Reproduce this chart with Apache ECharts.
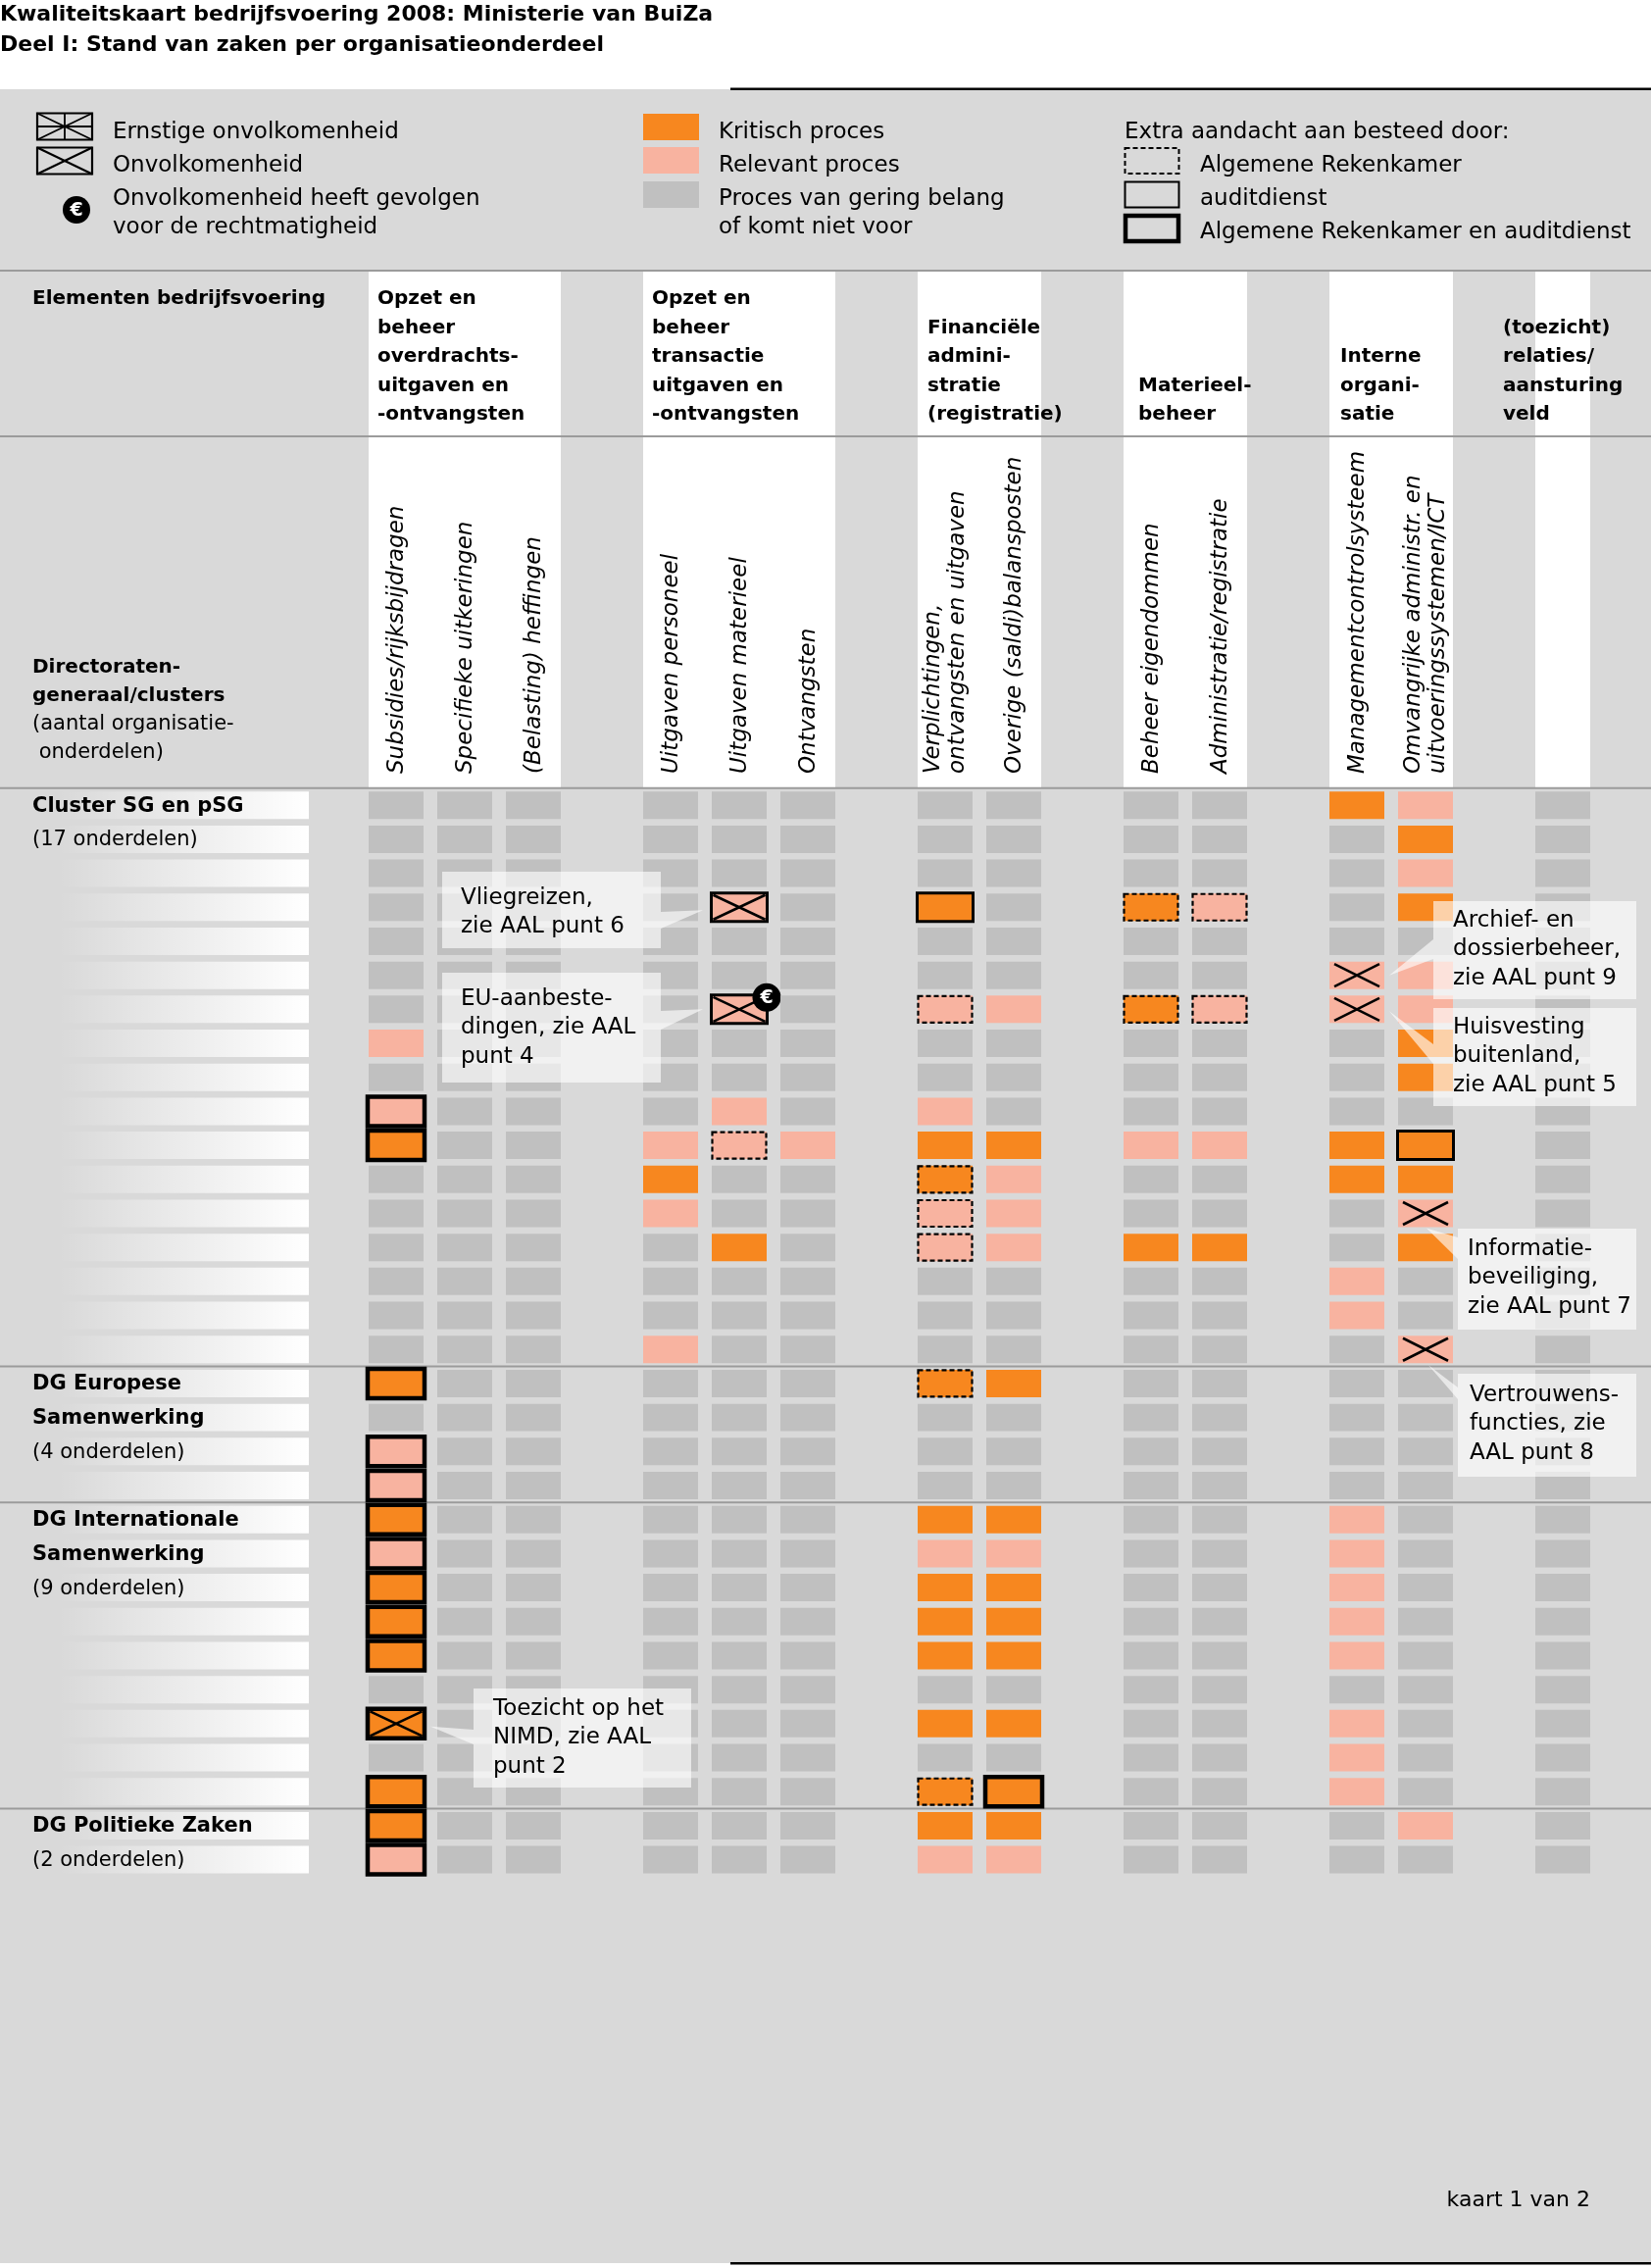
<!DOCTYPE html>
<html><head><meta charset="utf-8">
<script src="https://cdn.jsdelivr.net/npm/echarts@6/dist/echarts.min.js"></script>
<style>html,body{margin:0;padding:0;background:#fff}#c{width:1684px;height:2313px}</style>
</head><body><div id="c"></div>
<script>
// ---------- DATA ----------
const titleLines = ['Kwaliteitskaart bedrijfsvoering 2008: Ministerie van BuiZa', 'Deel I: Stand van zaken per organisatieonderdeel'];

// x-slot of each column (gaps between groups are empty slots)
const columnSlots = [0, 1, 2, 4, 5, 6, 8, 9, 11, 12, 14, 15, 17];
const columnLabels = [
  'Subsidies/rijksbijdragen', 'Specifieke uitkeringen', '(Belasting) heffingen',
  'Uitgaven personeel', 'Uitgaven materieel', 'Ontvangsten',
  'Verplichtingen,\nontvangsten en uitgaven', 'Overige (saldi)balansposten',
  'Beheer eigendommen', 'Administratie/registratie',
  'Managementcontrolsysteem', 'Omvangrijke administr. en\nuitvoeringssystemen/ICT',
  ''
];
const groupSpans = [[0, 2], [4, 6], [8, 9], [11, 12], [14, 15], [17, 17]];
const groupTitles = [
  'Opzet en\nbeheer\noverdrachts-\nuitgaven en\n-ontvangsten',
  'Opzet en\nbeheer\ntransactie\nuitgaven en\n-ontvangsten',
  'Financiële\nadmini-\nstratie\n(registratie)',
  'Materieel-\nbeheer',
  'Interne\norgani-\nsatie',
  '(toezicht)\nrelaties/\naansturing\nveld'
];

// g = gering belang, p = relevant, o = kritisch ; one string per organisation unit (13 columns)
const rowLevels = [
  'ggggggggggopg', 'gggggggggggog', 'gggggggggggpg', 'ggggpgogopgog', 'ggggggggggggg',
  'ggggggggggppg', 'ggggpgppopppg', 'pggggggggggog', 'gggggggggggog', 'pgggpgpgggggg',
  'oggpppooppoog', 'gggoggopggoog', 'gggpggppgggpg', 'ggggogppoogog', 'ggggggggggpgg',
  'ggggggggggpgg', 'gggpgggggggpg',
  'ogggggooggggg', 'ggggggggggggg', 'pgggggggggggg', 'pgggggggggggg',
  'ogggggooggpgg', 'pgggggppggpgg', 'ogggggooggpgg', 'ogggggooggpgg', 'ogggggooggpgg',
  'ggggggggggggg', 'ogggggooggpgg', 'ggggggggggpgg', 'ogggggooggpgg',
  'ogggggoogggpg', 'pgggggppggggg'
];
// [row, column, attention (1 = Rekenkamer, 2 = auditdienst, 3 = beide), flaw (1 = onvolkomenheid, 2 = met gevolgen rechtmatigheid)]
const markers = [
  [4, 5, 2, 1], [4, 7, 2, 0], [4, 9, 1, 0], [4, 10, 1, 0],
  [6, 11, 0, 1],
  [7, 5, 2, 2], [7, 7, 1, 0], [7, 9, 1, 0], [7, 10, 1, 0], [7, 11, 0, 1],
  [10, 1, 3, 0], [11, 1, 3, 0], [11, 5, 1, 0], [11, 12, 2, 0],
  [12, 7, 1, 0], [13, 7, 1, 0], [14, 7, 1, 0], [13, 12, 0, 1], [17, 12, 0, 1],
  [18, 1, 3, 0], [18, 7, 1, 0], [20, 1, 3, 0], [21, 1, 3, 0],
  [22, 1, 3, 0], [23, 1, 3, 0], [24, 1, 3, 0], [25, 1, 3, 0], [26, 1, 3, 0],
  [28, 1, 3, 1], [30, 1, 3, 0], [30, 7, 1, 0], [30, 8, 3, 0],
  [31, 1, 3, 0], [32, 1, 3, 0]
];
const rowLabels = [
  [1, 'Cluster SG en pSG', 1], [2, '(17 onderdelen)', 0],
  [18, 'DG Europese', 1], [19, 'Samenwerking', 1], [20, '(4 onderdelen)', 0],
  [22, 'DG Internationale', 1], [23, 'Samenwerking', 1], [24, '(9 onderdelen)', 0],
  [31, 'DG Politieke Zaken', 1], [32, '(2 onderdelen)', 0]
];
const groupBreaks = [17, 21, 30];
// callouts: [row, column, text]
const callouts = [
  [4, 5, 'Vliegreizen,\nzie AAL punt 6'],
  [7, 5, 'EU-aanbeste-\ndingen, zie AAL\npunt 4'],
  [6, 11, 'Archief- en\ndossierbeheer,\nzie AAL punt 9'],
  [7, 11, 'Huisvesting\nbuitenland,\nzie AAL punt 5'],
  [13, 12, 'Informatie-\nbeveiliging,\nzie AAL punt 7'],
  [17, 12, 'Vertrouwens-\nfuncties, zie\nAAL punt 8'],
  [28, 1, 'Toezicht op het\nNIMD, zie AAL\npunt 2']
];

// ---------- LAYOUT / STYLE ----------
const calloutLayout = [
  {x: 451, y: 889, w: 223, h: 78, pad: 19, dy: 12, edge: 'right', b: [930, 947], tdx: -37, tdy: 3},
  {x: 451, y: 992, w: 223, h: 112, pad: 19, dy: 12, edge: 'right', b: [1031, 1050], tdx: -37, tdy: 0},
  {x: 1462, y: 919, w: 207, h: 100, pad: 20, dy: 5, edge: 'left', b: [958, 978], tdx: 33, tdy: 0},
  {x: 1462, y: 1028, w: 207, h: 100, pad: 20, dy: 5, edge: 'left', b: [1065, 1085], tdx: 33, tdy: 2},
  {x: 1487, y: 1253, w: 182, h: 103, pad: 10, dy: 6, edge: 'left', b: [1262, 1284], tdx: 1, tdy: 15},
  {x: 1487, y: 1401, w: 182, h: 105, pad: 12, dy: 7, edge: 'left', b: [1415, 1427], tdx: 3, tdy: 16},
  {x: 483, y: 1722, w: 222, h: 101, pad: 20, dy: 6, edge: 'left', b: [1764, 1779], tdx: 35, tdy: 3}
];
const groupTitleX = [385, 665, 946, 1161, 1367, 1533];

const ORANGE = '#f7871f', PINK = '#f8b3a0', GREY = '#c0c0c0', BG = '#d9d9d9', LINE = '#9b9b9b';
const LEVEL_COLORS = {g: GREY, p: PINK, o: ORANGE};
const FF = '"DejaVu Sans", "Liberation Sans", sans-serif';
const f = (size, weight, style) => (style ? style + ' ' : '') + (weight ? weight + ' ' : '') + size + 'px ' + FF;

// derived cell table
const cellData = [];
rowLevels.forEach((s, r) => {
  for (let c = 0; c < 13; c++) {
    const m = markers.find(mm => mm[0] === r + 1 && mm[1] === c + 1);
    cellData.push([columnSlots[c], r + 1, s[c], m ? m[2] : 0, m ? m[3] : 0]);
  }
});

function cellGeom(api, slot, row) {
  const c = api.coord([slot + 0.5, row - 0.5]);
  const s = api.size([1, 1]);
  const w = s[0] * 0.8, h = s[1] * 0.807;
  return {x: c[0] - w / 2, y: c[1] - h / 2, w: w, h: h, cx: c[0], cy: c[1]};
}

// ---------- STATIC GRAPHICS ----------
const G = [];
G.push({type: 'rect', z: 0, shape: {x: 0, y: 91, width: 1684, height: 2217}, style: {fill: BG}});
G.push({type: 'rect', z: 30, shape: {x: 745, y: 89.5, width: 939, height: 2.5}, style: {fill: '#000'}});
G.push({type: 'rect', z: 30, shape: {x: 745, y: 2307, width: 939, height: 2.5}, style: {fill: '#000'}});
[276, 445, 803.85].forEach(y => G.push({type: 'rect', z: 30, shape: {x: 0, y: y - 1, width: 1684, height: 2}, style: {fill: LINE}}));
titleLines.forEach((t, i) => G.push({type: 'text', z: 30, x: 0, y: 15 + i * 31, style: {text: t, font: f(22, 'bold'), fill: '#000', align: 'left', verticalAlign: 'middle'}}));

// legend
const txt = (x, y, t, font) => G.push({type: 'text', z: 30, x: x, y: y, style: {text: t, font: font || f(23), fill: '#000', align: 'left', verticalAlign: 'middle'}});
G.push({type: 'rect', z: 30, shape: {x: 38, y: 115.5, width: 56, height: 27}, style: {fill: 'none', stroke: '#000', lineWidth: 2.2}});
[[38, 115.5, 94, 142.5], [94, 115.5, 38, 142.5], [38, 129, 94, 129], [66, 115.5, 66, 142.5]].forEach(l =>
  G.push({type: 'line', z: 30, shape: {x1: l[0], y1: l[1], x2: l[2], y2: l[3]}, style: {stroke: '#000', lineWidth: 1.8}}));
G.push({type: 'rect', z: 30, shape: {x: 38, y: 150.5, width: 56, height: 27}, style: {fill: 'none', stroke: '#000', lineWidth: 2.2}});
[[38, 150.5, 94, 177.5], [94, 150.5, 38, 177.5]].forEach(l =>
  G.push({type: 'line', z: 30, shape: {x1: l[0], y1: l[1], x2: l[2], y2: l[3]}, style: {stroke: '#000', lineWidth: 2.2}}));
G.push({type: 'circle', z: 30, shape: {cx: 78, cy: 214, r: 14}, style: {fill: '#000'}});
G.push({type: 'text', z: 31, x: 78, y: 215, style: {text: '€', font: f(19, 'bold'), fill: '#fff', align: 'center', verticalAlign: 'middle'}});
txt(115, 135, 'Ernstige onvolkomenheid');
txt(115, 169, 'Onvolkomenheid');
txt(115, 203, 'Onvolkomenheid heeft gevolgen');
txt(115, 232, 'voor de rechtmatigheid');
[[116, ORANGE], [150, PINK], [185, GREY]].forEach(s => G.push({type: 'rect', z: 30, shape: {x: 656, y: s[0], width: 57, height: 27}, style: {fill: s[1]}}));
txt(733, 135, 'Kritisch proces');
txt(733, 169, 'Relevant proces');
txt(733, 203, 'Proces van gering belang');
txt(733, 232, 'of komt niet voor');
txt(1147, 135, 'Extra aandacht aan besteed door:');
G.push({type: 'rect', z: 30, shape: {x: 1147.5, y: 151, width: 55, height: 26}, style: {fill: 'none', stroke: '#000', lineWidth: 2, lineDash: [5, 3]}});
G.push({type: 'rect', z: 30, shape: {x: 1147.5, y: 185.5, width: 55, height: 26}, style: {fill: 'none', stroke: '#000', lineWidth: 2}});
G.push({type: 'rect', z: 30, shape: {x: 1148, y: 220, width: 54, height: 26}, style: {fill: 'none', stroke: '#000', lineWidth: 4.5}});
txt(1224, 169, 'Algemene Rekenkamer');
txt(1224, 203, 'auditdienst');
txt(1224, 237, 'Algemene Rekenkamer en auditdienst');

// header texts
txt(33, 305, 'Elementen bedrijfsvoering', f(20, 'bold'));
groupTitles.forEach((t, i) => G.push({type: 'text', z: 30, x: groupTitleX[i], y: 438,
  style: {text: t, font: f(20, 'bold'), fill: '#000', align: 'left', verticalAlign: 'bottom', lineHeight: 29.5}}));
txt(33, 681, 'Directoraten-', f(20, 'bold'));
txt(33, 710, 'generaal/clusters', f(20, 'bold'));
txt(33, 739, '(aantal organisatie-', f(21));
txt(33, 768, ' onderdelen)', f(21));
G.push({type: 'text', z: 30, x: 1622, y: 2244, style: {text: 'kaart 1 van 2', font: f(22), fill: '#000', align: 'right', verticalAlign: 'middle'}});

// ---------- CHART ----------
const chart = echarts.init(document.getElementById('c'), null, {width: 1684, height: 2313});
chart.setOption({
  animation: false,
  backgroundColor: '#ffffff',
  grid: {left: 369, top: 803.85, width: 1260, height: 1110.1, show: false},
  xAxis: {type: 'value', min: 0, max: 18, show: false},
  yAxis: {type: 'value', min: 0, max: 32, inverse: true, show: false},
  graphic: {elements: G},
  series: [
    { // white header bands per group
      type: 'custom', z: 1, silent: true, clip: false,
      data: groupSpans.map(g => [g[0], g[1]]),
      renderItem: (params, api) => {
        const g = groupSpans[params.dataIndex];
        const x0 = api.coord([g[0] + 0.1, 0])[0], x1 = api.coord([g[1] + 0.9, 0])[0];
        return {type: 'rect', shape: {x: x0, y: 277, width: x1 - x0, height: 526}, style: {fill: '#ffffff'}};
      }
    },
    { // row strips + row labels
      type: 'custom', z: 2, silent: true, clip: false,
      data: rowLevels.map((s, i) => [0, i + 1]),
      renderItem: (params, api) => {
        const r = params.dataIndex + 1;
        const g = cellGeom(api, 0, r);
        const ch = [{type: 'rect', shape: {x: 60, y: g.y, width: 255, height: g.h},
          style: {fill: new echarts.graphic.LinearGradient(0, 0, 1, 0, [{offset: 0, color: 'rgba(255,255,255,0)'}, {offset: 1, color: 'rgba(255,255,255,1)'}])}}];
        const lab = rowLabels.find(l => l[0] === r);
        if (lab) ch.push({type: 'text', x: 33, y: g.cy + 1, style: {text: lab[1], font: lab[2] ? f(21, 'bold') : f(21), fill: '#000', align: 'left', verticalAlign: 'middle'}});
        return {type: 'group', children: ch};
      }
    },
    { // rotated column labels
      type: 'custom', z: 3, silent: true, clip: false,
      data: columnSlots.map(s => [s, 0]),
      renderItem: (params, api) => {
        const x = api.coord([columnSlots[params.dataIndex] + 0.5, 0])[0];
        return {type: 'text', x: x + 1, y: 789, rotation: Math.PI / 2,
          style: {text: columnLabels[params.dataIndex], font: f(23, null, 'italic'), fill: '#000', align: 'left', verticalAlign: 'middle', lineHeight: 25}};
      }
    },
    { // group separator lines
      type: 'custom', z: 5, silent: true, clip: false,
      data: groupBreaks.map(b => [0, b]),
      renderItem: (params, api) => {
        const y = api.coord([0, groupBreaks[params.dataIndex]])[1];
        return {type: 'rect', shape: {x: 0, y: y - 1, width: api.getWidth(), height: 2}, style: {fill: LINE}};
      }
    },
    { // cells
      type: 'custom', z: 6, silent: true, clip: false,
      data: cellData.map(d => [d[0], d[1]]),
      renderItem: (params, api) => {
        const d = cellData[params.dataIndex];
        const g = cellGeom(api, d[0], d[1]);
        const ch = [{type: 'rect', shape: {x: g.x, y: g.y, width: g.w, height: g.h}, style: {fill: LEVEL_COLORS[d[2]]}}];
        const b = d[3];
        if (b === 1) ch.push({type: 'rect', shape: {x: g.x + 0.5, y: g.y + 0.5, width: g.w - 1, height: g.h - 1}, style: {fill: 'none', stroke: '#000', lineWidth: 2.2, lineDash: [5, 3]}});
        if (b === 2) ch.push({type: 'rect', shape: {x: g.x - 0.5, y: g.y - 0.5, width: g.w + 1, height: g.h + 1}, style: {fill: 'none', stroke: '#000', lineWidth: 3}});
        if (b === 3) ch.push({type: 'rect', shape: {x: g.x - 1, y: g.y - 1, width: g.w + 2, height: g.h + 2}, style: {fill: 'none', stroke: '#000', lineWidth: 4.5}});
        if (d[4]) {
          const ix = b ? 1.5 : 5, iy = b ? 1.5 : 2.5;
          ch.push({type: 'line', shape: {x1: g.x + ix, y1: g.y + iy, x2: g.x + g.w - ix, y2: g.y + g.h - iy}, style: {stroke: '#000', lineWidth: 2.6}});
          ch.push({type: 'line', shape: {x1: g.x + g.w - ix, y1: g.y + iy, x2: g.x + ix, y2: g.y + g.h - iy}, style: {stroke: '#000', lineWidth: 2.6}});
        }
        if (d[4] === 2) {
          ch.push({type: 'circle', shape: {cx: g.x + g.w, cy: g.y + 2, r: 14.5}, style: {fill: '#000'}});
          ch.push({type: 'text', x: g.x + g.w, y: g.y + 3, style: {text: '€', font: f(19, 'bold'), fill: '#fff', align: 'center', verticalAlign: 'middle'}});
        }
        return {type: 'group', children: ch};
      }
    },
    { // callouts
      type: 'custom', z: 8, silent: true, clip: false,
      data: callouts.map(c => [columnSlots[c[1] - 1], c[0]]),
      renderItem: (params, api) => {
        const c = callouts[params.dataIndex], L = calloutLayout[params.dataIndex];
        const g = cellGeom(api, columnSlots[c[1] - 1], c[0]);
        const tx = g.cx + L.tdx, ty = g.cy + L.tdy;
        const x = L.x, y = L.y, w = L.w, h = L.h;
        const pts = L.edge === 'right'
          ? [[x, y], [x + w, y], [x + w, L.b[0]], [tx, ty], [x + w, L.b[1]], [x + w, y + h], [x, y + h]]
          : [[x, y], [x + w, y], [x + w, y + h], [x, y + h], [x, L.b[1]], [tx, ty], [x, L.b[0]]];
        return {type: 'group', children: [
          {type: 'polygon', shape: {points: pts}, style: {fill: 'rgba(255,255,255,0.62)'}},
          {type: 'text', x: x + L.pad, y: y + L.dy, style: {text: c[2], font: f(23), fill: '#000', align: 'left', verticalAlign: 'top', lineHeight: 29.5}}
        ]};
      }
    }
  ]
});
</script></body></html>
